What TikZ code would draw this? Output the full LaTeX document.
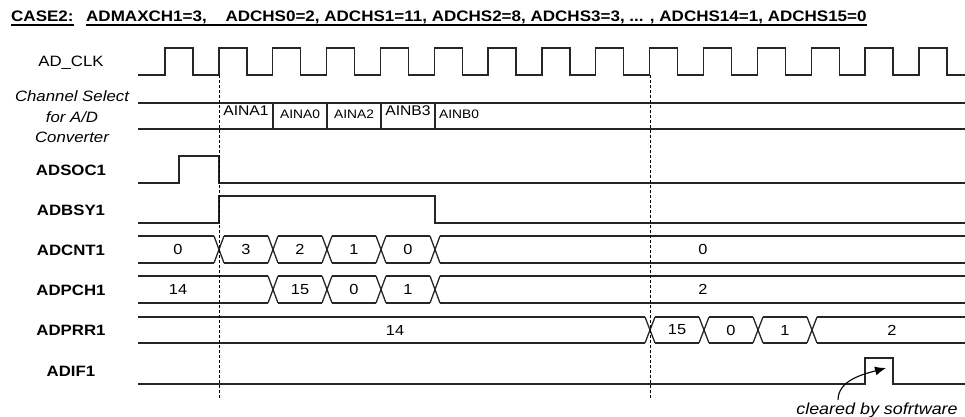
\documentclass[tikz,border=0pt]{standalone}
\usepackage{fontspec}
\setmainfont{Liberation Sans}[FakeStretch=1.12]
\usetikzlibrary{arrows.meta}

% one bus row: top y, bottom y, list of crossing points
\newcommand{\busrow}[3]{%
  \foreach \c [remember=\c as \p (initially 133)] in {#3,970}
    \draw[sig] (\p+5,#1) -- (\c-5,#1) (\p+5,#2) -- (\c-5,#2);
  \foreach \c in {#3}
    \draw[sig] (\c-5,#1) -- (\c+5,#2) (\c-5,#2) -- (\c+5,#1);
}

\begin{document}
\begin{tikzpicture}[
  x=1pt, y=-1pt,
  sig/.style={line width=1.3pt, black!85},
  csline/.style={line width=1.9pt, black!85},
  vline/.style={line width=0.8pt, dash pattern=on 3pt off 2pt},
  uline/.style={line width=1.2pt},
  ttl/.style={anchor=base west, inner sep=0pt, font=\fontsize{15.2}{18}\selectfont\bfseries},
  lbl/.style={anchor=base, inner sep=0pt, font=\fontsize{15}{18}\selectfont\bfseries},
  val/.style={inner sep=0pt, font=\fontsize{14.6}{16}\selectfont},
  ain/.style={anchor=base, inner sep=0pt, font=\fontsize{14}{16}\selectfont},
  ainsm/.style={anchor=base, inner sep=0pt, font=\fontsize{12.3}{14}\selectfont},
  clrarr/.style={-{Latex[length=11pt,width=9pt]}, line width=1.1pt}
]
  \useasboundingbox (0,0) rectangle (965,417);

  % title
  \node[ttl] (caseLbl) at (11,22) {CASE2:};
  \node[ttl] (condLbl) at (86,22) {ADMAXCH1=3,\hspace{14pt} ADCHS0=2, ADCHS1=11, ADCHS2=8, ADCHS3=3, ... , ADCHS14=1, ADCHS15=0};
  \draw[uline] ([yshift=-3pt]caseLbl.base west) -- ([yshift=-3pt]caseLbl.base east);
  \draw[uline] ([yshift=-3pt]condLbl.base west) -- ([yshift=-3pt]condLbl.base east);

  % signal names
  \node[lbl, font=\fontsize{15}{18}\selectfont] (clkLbl) at (71,67) {AD\_CLK};
  \node[align=center, inner sep=0pt, font=\fontsize{15}{20.5}\selectfont\itshape] (chsLbl) at (72,117)
    {Channel Select\\for A/D\\Converter};
  \node[lbl] (socLbl) at (71,175) {ADSOC1};
  \node[lbl] (bsyLbl) at (71,215) {ADBSY1};
  \node[lbl] (cntLbl) at (71,255) {ADCNT1};
  \node[lbl] (pchLbl) at (71,295) {ADPCH1};
  \node[lbl] (prrLbl) at (71,335) {ADPRR1};
  \node[lbl] (ifLbl) at (71,376) {ADIF1};

  % clock
  \draw[sig] (138,75) \foreach \k in {0,...,14} { -- ({165+53.85*\k},75) -- ++(0,-27) -- ++(28,0) -- ++(0,27) } -- (965,75);

  % channel select
  \draw[csline] (138,103) -- (965,103) (138,129) -- (965,129);
  \foreach \x in {273,327,381,435}
    \draw[csline] (\x,103) -- (\x,129);
  \node[ain] (ch1) at (246,115) {AINA1};
  \node[ainsm] (ch2) at (300,118) {AINA0};
  \node[ainsm] (ch3) at (354,118) {AINA2};
  \node[ain] (ch4) at (408,115) {AINB3};
  \node[ainsm] (ch5) at (459,118) {AINB0};

  % ADSOC1, ADBSY1
  \draw[sig] (138,183) -| (179,156) -| (219,183) -- (965,183);
  \draw[sig] (138,223) -| (219,196) -| (435,223) -- (965,223);

  % ADCNT1
  \busrow{236}{263}{219,273,327,381,435}
  \foreach \v/\x [count=\i] in {0/178, 3/246, 2/300, 1/354, 0/408, 0/703}
    \node[val] (cnt\i) at (\x,249.5) {\v};

  % ADPCH1
  \busrow{276}{303}{273,327,381,435}
  \foreach \v/\x [count=\i] in {14/178, 15/300, 0/354, 1/408, 2/703}
    \node[val] (pch\i) at (\x,289.5) {\v};

  % ADPRR1
  \busrow{317}{343}{650,704,758,812}
  \foreach \v/\x [count=\i] in {14/395, 15/677, 0/731, 1/785, 2/892}
    \node[val] (prr\i) at (\x,330) {\v};

  % ADIF1
  \draw[sig] (138,384) -| (865,358) -| (893,384) -- (965,384);

  % dashed markers
  \draw[vline] (219,75) -- (219,398);
  \draw[vline] (650,75) -- (650,398);

  % note
  \node[anchor=base, inner sep=0pt, font=\fontsize{16}{18}\selectfont\itshape] (clrNote) at (877,414) {cleared by sofrtware};
  \coordinate (clrTail) at (838,400);
  \coordinate (clrTip) at (886,368);
  \draw[clrarr] (clrTail) .. controls (838,380) and (864,374) .. (clrTip);
\end{tikzpicture}
\end{document}
